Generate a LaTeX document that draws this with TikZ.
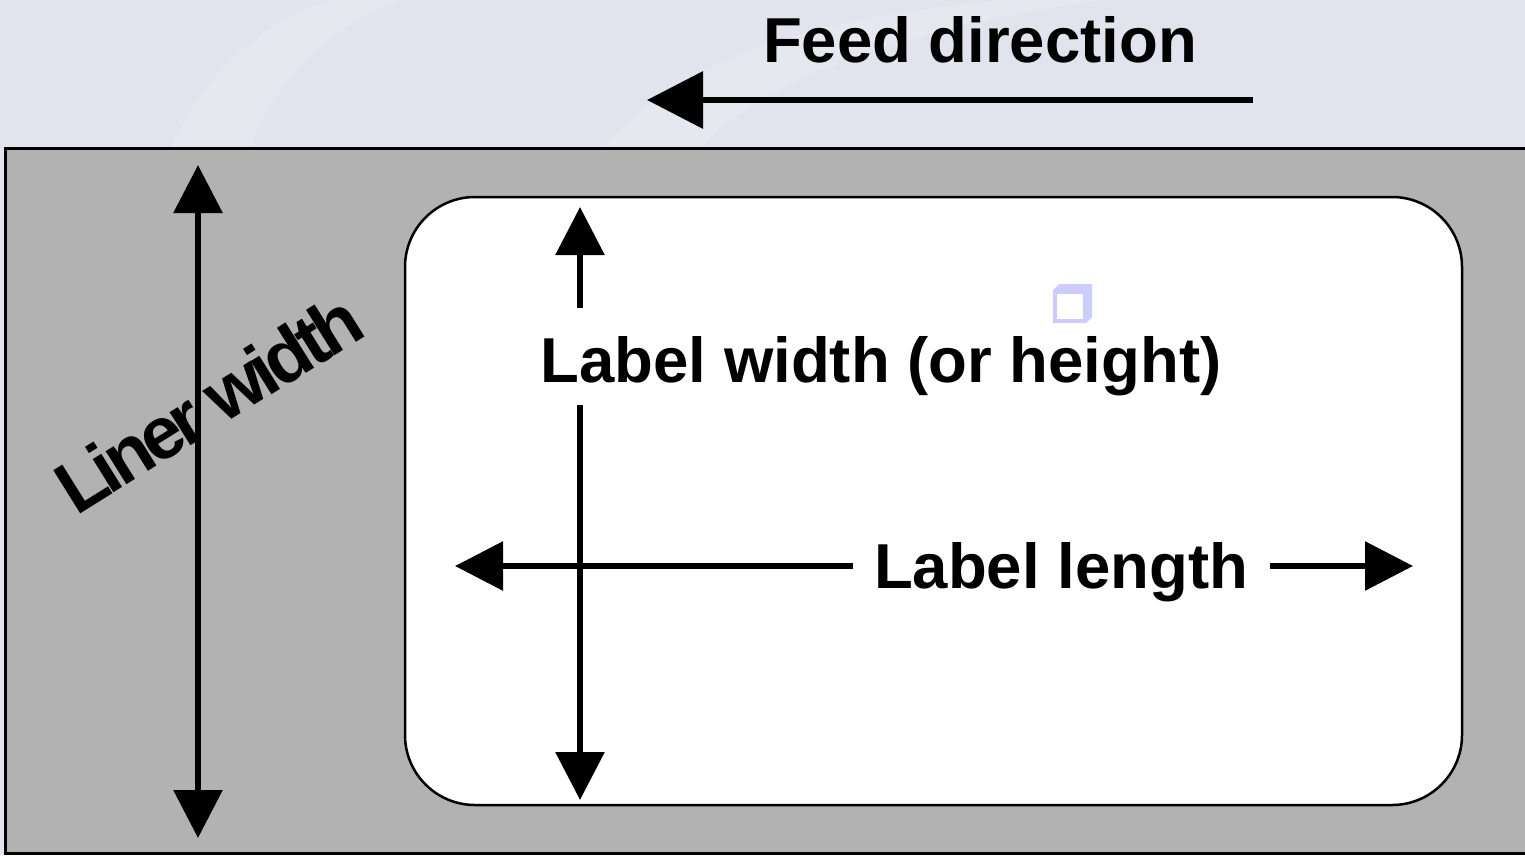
\documentclass[tikz,border=0pt]{standalone}
\usepackage{fontspec}
\setmainfont{Liberation Sans}
\newfontfamily\tightfont[LetterSpace=-7.5]{Liberation Sans}
\usetikzlibrary{arrows.meta}
\definecolor{bgtop}{RGB}{225,227,237}
\definecolor{liner}{RGB}{178,178,178}
\definecolor{cube}{RGB}{204,204,255}
\tikzset{
  big/.style={font=\bfseries\fontsize{63.5}{64}\selectfont, inner sep=0pt},
  tight/.style={font=\tightfont\bfseries\fontsize{74}{74}\selectfont, inner sep=0pt},
  dim/.style={line width=6pt, -{Triangle[length=48pt,width=48pt]}},
  dimboth/.style={line width=6pt, {Triangle[length=48pt,width=48pt]}-{Triangle[length=48pt,width=48pt]}},
  feed/.style={line width=6.5pt, -{Triangle[length=56pt,width=56pt]}},
}
\begin{document}
\begin{tikzpicture}[x=1pt,y=-1pt]
\path[use as bounding box] (0,0) rectangle (1525,855);
% background
\fill[bgtop] (0,0) rectangle (1525,855);
\fill[white,opacity=0.18] (170,150) .. controls (200,80) and (260,20) .. (330,0) -- (400,0) .. controls (320,30) and (270,90) .. (250,150) -- cycle;
\fill[white,opacity=0.18] (600,150) .. controls (680,60) and (800,20) .. (1000,0) -- (1100,0) .. controls (900,30) and (760,80) .. (700,150) -- cycle;
% liner
\draw[line width=3pt, fill=liner] (5,148) rectangle (1530,853);
% label
\draw[line width=2.5pt, fill=white, rounded corners=70pt] (405,197) rectangle (1462,805);
% cube icon
\fill[cube] (1053,290) -- (1059,284) -- (1092,284) -- (1092,317) -- (1086,323) -- (1053,323) -- cycle;
\fill[white] (1057,294) rectangle (1083,319);
% texts
\node[big, anchor=base] (feedtxt) at (980,62) {Feed direction};
\node[big, anchor=base] (widthtxt) at (881,382) {Label width (or height)};
\node[big, anchor=base] (lengthtxt) at (1061,588) {Label length};
\node[tight, anchor=base west, rotate=32] (linertxt) at (76,517) {Liner width};
% coordinates
\coordinate (feedS) at (1253,100);
\coordinate (feedE) at (647,100);
\coordinate (linT) at (198,165);
\coordinate (linB) at (198,838);
\coordinate (wT) at (580,207);
\coordinate (wTs) at (580,308);
\coordinate (wBs) at (580,405);
\coordinate (wB) at (580,800);
\coordinate (lL) at (455,566);
\coordinate (lLs) at (853,566);
\coordinate (lRs) at (1270,566);
\coordinate (lR) at (1413,566);
% arrows
\draw[feed] (feedS) -- (feedE);
\draw[dimboth] (linT) -- (linB);
\draw[dim] (wTs) -- (wT);
\draw[dim] (wBs) -- (wB);
\draw[dim] (lLs) -- (lL);
\draw[dim] (lRs) -- (lR);
\end{tikzpicture}
\end{document}
